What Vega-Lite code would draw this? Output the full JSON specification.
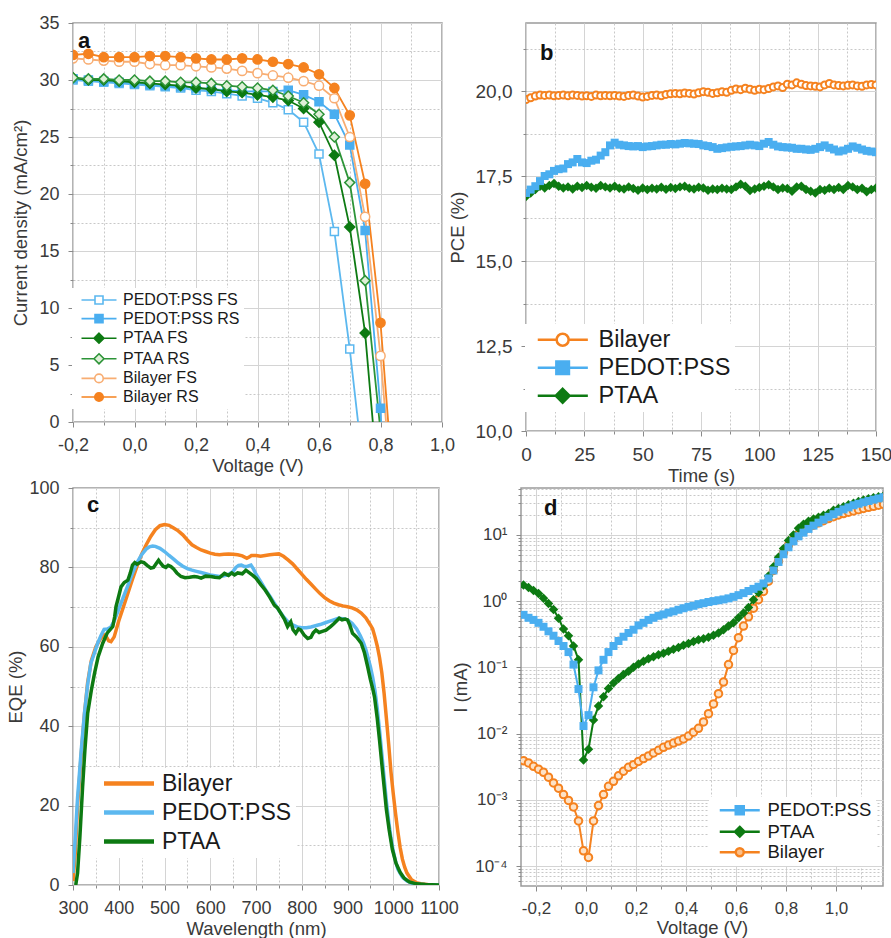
{
"$schema": "https://vega.github.io/schema/vega-lite/v6.json",
"background": "white",
"padding": {"left": 6, "top": 13, "right": 2, "bottom": 2},
"config": {
 "font": "Liberation Sans",
 "view": {"stroke": "#9a9a9a", "strokeWidth": 1.5},
 "axis": {"labelFont": "Liberation Sans", "titleFont": "Liberation Sans", "labelColor": "#3a3a3a", "titleColor": "#3a3a3a", "titleFontWeight": "normal", "domain": false, "tickColor": "#8a8a8a", "gridColor": "#d4d4d4", "labelFontSize": 18, "titleFontSize": 18.5, "tickSize": 5, "labelPadding": 9, "titlePadding": 8, "labelFlush": false, "labelOverlap": false, "labelBound": false},
 "legend": {"labelFont": "Liberation Sans", "labelColor": "#1a1a1a", "titleFont": "Liberation Sans"}
},
"datasets": {
"a": [
{"s":"PEDOT:PSS FS","v":-0.2,"j":30.0},{"s":"PEDOT:PSS FS","v":-0.15,"j":29.9},{"s":"PEDOT:PSS FS","v":-0.1,"j":29.8},{"s":"PEDOT:PSS FS","v":-0.05,"j":29.7},{"s":"PEDOT:PSS FS","v":0,"j":29.6},{"s":"PEDOT:PSS FS","v":0.05,"j":29.5},{"s":"PEDOT:PSS FS","v":0.1,"j":29.4},{"s":"PEDOT:PSS FS","v":0.15,"j":29.3},{"s":"PEDOT:PSS FS","v":0.2,"j":29.1},{"s":"PEDOT:PSS FS","v":0.25,"j":29.0},{"s":"PEDOT:PSS FS","v":0.3,"j":28.8},{"s":"PEDOT:PSS FS","v":0.35,"j":28.6},{"s":"PEDOT:PSS FS","v":0.4,"j":28.4},{"s":"PEDOT:PSS FS","v":0.45,"j":28.0},{"s":"PEDOT:PSS FS","v":0.5,"j":27.4},{"s":"PEDOT:PSS FS","v":0.55,"j":26.3},{"s":"PEDOT:PSS FS","v":0.6,"j":23.5},{"s":"PEDOT:PSS FS","v":0.65,"j":16.7},{"s":"PEDOT:PSS FS","v":0.7,"j":6.4},{"s":"PEDOT:PSS FS","v":0.727,"j":0},
{"s":"PEDOT:PSS RS","v":-0.2,"j":30.1},{"s":"PEDOT:PSS RS","v":-0.15,"j":30.0},{"s":"PEDOT:PSS RS","v":-0.1,"j":29.9},{"s":"PEDOT:PSS RS","v":-0.05,"j":29.8},{"s":"PEDOT:PSS RS","v":0,"j":29.7},{"s":"PEDOT:PSS RS","v":0.05,"j":29.6},{"s":"PEDOT:PSS RS","v":0.1,"j":29.5},{"s":"PEDOT:PSS RS","v":0.15,"j":29.4},{"s":"PEDOT:PSS RS","v":0.2,"j":29.3},{"s":"PEDOT:PSS RS","v":0.25,"j":29.2},{"s":"PEDOT:PSS RS","v":0.3,"j":29.1},{"s":"PEDOT:PSS RS","v":0.35,"j":29.0},{"s":"PEDOT:PSS RS","v":0.4,"j":29.0},{"s":"PEDOT:PSS RS","v":0.45,"j":29.0},{"s":"PEDOT:PSS RS","v":0.5,"j":29.1},{"s":"PEDOT:PSS RS","v":0.55,"j":28.7},{"s":"PEDOT:PSS RS","v":0.6,"j":28.1},{"s":"PEDOT:PSS RS","v":0.65,"j":27.0},{"s":"PEDOT:PSS RS","v":0.7,"j":24.3},{"s":"PEDOT:PSS RS","v":0.75,"j":16.8},{"s":"PEDOT:PSS RS","v":0.8,"j":1.2},{"s":"PEDOT:PSS RS","v":0.802,"j":0},
{"s":"PTAA FS","v":-0.2,"j":30.2},{"s":"PTAA FS","v":-0.15,"j":30.0},{"s":"PTAA FS","v":-0.1,"j":30.0},{"s":"PTAA FS","v":-0.05,"j":29.9},{"s":"PTAA FS","v":0,"j":29.8},{"s":"PTAA FS","v":0.05,"j":29.7},{"s":"PTAA FS","v":0.1,"j":29.6},{"s":"PTAA FS","v":0.15,"j":29.5},{"s":"PTAA FS","v":0.2,"j":29.3},{"s":"PTAA FS","v":0.25,"j":29.2},{"s":"PTAA FS","v":0.3,"j":29.0},{"s":"PTAA FS","v":0.35,"j":28.9},{"s":"PTAA FS","v":0.4,"j":28.7},{"s":"PTAA FS","v":0.45,"j":28.5},{"s":"PTAA FS","v":0.5,"j":28.2},{"s":"PTAA FS","v":0.55,"j":27.5},{"s":"PTAA FS","v":0.6,"j":26.3},{"s":"PTAA FS","v":0.65,"j":23.4},{"s":"PTAA FS","v":0.7,"j":17.1},{"s":"PTAA FS","v":0.75,"j":7.8},{"s":"PTAA FS","v":0.775,"j":0},
{"s":"PTAA RS","v":-0.2,"j":30.2},{"s":"PTAA RS","v":-0.15,"j":30.1},{"s":"PTAA RS","v":-0.1,"j":30.1},{"s":"PTAA RS","v":-0.05,"j":30.0},{"s":"PTAA RS","v":0,"j":30.0},{"s":"PTAA RS","v":0.05,"j":29.9},{"s":"PTAA RS","v":0.1,"j":29.9},{"s":"PTAA RS","v":0.15,"j":29.8},{"s":"PTAA RS","v":0.2,"j":29.8},{"s":"PTAA RS","v":0.25,"j":29.7},{"s":"PTAA RS","v":0.3,"j":29.5},{"s":"PTAA RS","v":0.35,"j":29.4},{"s":"PTAA RS","v":0.4,"j":29.3},{"s":"PTAA RS","v":0.45,"j":29.1},{"s":"PTAA RS","v":0.5,"j":28.6},{"s":"PTAA RS","v":0.55,"j":28.0},{"s":"PTAA RS","v":0.6,"j":27.0},{"s":"PTAA RS","v":0.65,"j":25.0},{"s":"PTAA RS","v":0.7,"j":21.0},{"s":"PTAA RS","v":0.75,"j":12.4},{"s":"PTAA RS","v":0.797,"j":0},
{"s":"Bilayer FS","v":-0.2,"j":31.9},{"s":"Bilayer FS","v":-0.15,"j":31.8},{"s":"Bilayer FS","v":-0.1,"j":31.7},{"s":"Bilayer FS","v":-0.05,"j":31.6},{"s":"Bilayer FS","v":0,"j":31.6},{"s":"Bilayer FS","v":0.05,"j":31.4},{"s":"Bilayer FS","v":0.1,"j":31.3},{"s":"Bilayer FS","v":0.15,"j":31.3},{"s":"Bilayer FS","v":0.2,"j":31.2},{"s":"Bilayer FS","v":0.25,"j":31.1},{"s":"Bilayer FS","v":0.3,"j":31.0},{"s":"Bilayer FS","v":0.35,"j":30.8},{"s":"Bilayer FS","v":0.4,"j":30.6},{"s":"Bilayer FS","v":0.45,"j":30.4},{"s":"Bilayer FS","v":0.5,"j":30.2},{"s":"Bilayer FS","v":0.55,"j":29.9},{"s":"Bilayer FS","v":0.6,"j":29.5},{"s":"Bilayer FS","v":0.65,"j":28.4},{"s":"Bilayer FS","v":0.7,"j":25.0},{"s":"Bilayer FS","v":0.75,"j":18.0},{"s":"Bilayer FS","v":0.8,"j":5.8},{"s":"Bilayer FS","v":0.818,"j":0},
{"s":"Bilayer RS","v":-0.2,"j":32.2},{"s":"Bilayer RS","v":-0.15,"j":32.3},{"s":"Bilayer RS","v":-0.1,"j":32.0},{"s":"Bilayer RS","v":-0.05,"j":32.0},{"s":"Bilayer RS","v":0,"j":32.0},{"s":"Bilayer RS","v":0.05,"j":32.1},{"s":"Bilayer RS","v":0.1,"j":32.1},{"s":"Bilayer RS","v":0.15,"j":32.0},{"s":"Bilayer RS","v":0.2,"j":31.9},{"s":"Bilayer RS","v":0.25,"j":31.8},{"s":"Bilayer RS","v":0.3,"j":31.8},{"s":"Bilayer RS","v":0.35,"j":31.9},{"s":"Bilayer RS","v":0.4,"j":31.8},{"s":"Bilayer RS","v":0.45,"j":31.6},{"s":"Bilayer RS","v":0.5,"j":31.4},{"s":"Bilayer RS","v":0.55,"j":31.1},{"s":"Bilayer RS","v":0.6,"j":30.5},{"s":"Bilayer RS","v":0.65,"j":29.3},{"s":"Bilayer RS","v":0.7,"j":26.9},{"s":"Bilayer RS","v":0.75,"j":20.9},{"s":"Bilayer RS","v":0.8,"j":8.7},{"s":"Bilayer RS","v":0.825,"j":0}
],
"b": [
{"t":0,"Bilayer":19.75,"PEDOT:PSS":17.0,"PTAA":16.9},{"t":2,"Bilayer":19.8,"PEDOT:PSS":17.1,"PTAA":17.0},{"t":4,"Bilayer":19.85,"PEDOT:PSS":17.2,"PTAA":17.1},{"t":6,"Bilayer":19.88,"PEDOT:PSS":17.35,"PTAA":17.2},{"t":8,"Bilayer":19.87,"PEDOT:PSS":17.5,"PTAA":17.15},{"t":10,"Bilayer":19.88,"PEDOT:PSS":17.55,"PTAA":17.22},{"t":12,"Bilayer":19.86,"PEDOT:PSS":17.65,"PTAA":17.28},{"t":14,"Bilayer":19.87,"PEDOT:PSS":17.7,"PTAA":17.2},{"t":16,"Bilayer":19.88,"PEDOT:PSS":17.72,"PTAA":17.15},{"t":18,"Bilayer":19.86,"PEDOT:PSS":17.85,"PTAA":17.18},{"t":20,"Bilayer":19.88,"PEDOT:PSS":17.9,"PTAA":17.12},{"t":22,"Bilayer":19.87,"PEDOT:PSS":18.0,"PTAA":17.2},{"t":24,"Bilayer":19.85,"PEDOT:PSS":17.9,"PTAA":17.16},{"t":26,"Bilayer":19.86,"PEDOT:PSS":17.88,"PTAA":17.22},{"t":28,"Bilayer":19.84,"PEDOT:PSS":17.95,"PTAA":17.17},{"t":30,"Bilayer":19.88,"PEDOT:PSS":17.98,"PTAA":17.14},{"t":32,"Bilayer":19.86,"PEDOT:PSS":18.1,"PTAA":17.22},{"t":34,"Bilayer":19.87,"PEDOT:PSS":18.2,"PTAA":17.18},{"t":36,"Bilayer":19.86,"PEDOT:PSS":18.4,"PTAA":17.15},{"t":38,"Bilayer":19.87,"PEDOT:PSS":18.48,"PTAA":17.2},{"t":40,"Bilayer":19.85,"PEDOT:PSS":18.42,"PTAA":17.14},{"t":42,"Bilayer":19.84,"PEDOT:PSS":18.4,"PTAA":17.12},{"t":44,"Bilayer":19.87,"PEDOT:PSS":18.38,"PTAA":17.18},{"t":46,"Bilayer":19.88,"PEDOT:PSS":18.37,"PTAA":17.13},{"t":48,"Bilayer":19.85,"PEDOT:PSS":18.38,"PTAA":17.08},{"t":50,"Bilayer":19.82,"PEDOT:PSS":18.35,"PTAA":17.15},{"t":52,"Bilayer":19.84,"PEDOT:PSS":18.37,"PTAA":17.1},{"t":54,"Bilayer":19.87,"PEDOT:PSS":18.38,"PTAA":17.14},{"t":56,"Bilayer":19.88,"PEDOT:PSS":18.4,"PTAA":17.12},{"t":58,"Bilayer":19.86,"PEDOT:PSS":18.42,"PTAA":17.17},{"t":60,"Bilayer":19.9,"PEDOT:PSS":18.42,"PTAA":17.11},{"t":62,"Bilayer":19.92,"PEDOT:PSS":18.44,"PTAA":17.16},{"t":64,"Bilayer":19.93,"PEDOT:PSS":18.43,"PTAA":17.13},{"t":66,"Bilayer":19.92,"PEDOT:PSS":18.45,"PTAA":17.18},{"t":68,"Bilayer":19.94,"PEDOT:PSS":18.47,"PTAA":17.2},{"t":70,"Bilayer":19.93,"PEDOT:PSS":18.46,"PTAA":17.14},{"t":72,"Bilayer":19.91,"PEDOT:PSS":18.45,"PTAA":17.12},{"t":74,"Bilayer":19.95,"PEDOT:PSS":18.44,"PTAA":17.17},{"t":76,"Bilayer":19.98,"PEDOT:PSS":18.4,"PTAA":17.15},{"t":78,"Bilayer":19.96,"PEDOT:PSS":18.38,"PTAA":17.08},{"t":80,"Bilayer":19.93,"PEDOT:PSS":18.35,"PTAA":17.12},{"t":82,"Bilayer":19.95,"PEDOT:PSS":18.3,"PTAA":17.1},{"t":84,"Bilayer":19.98,"PEDOT:PSS":18.32,"PTAA":17.14},{"t":86,"Bilayer":19.96,"PEDOT:PSS":18.34,"PTAA":17.12},{"t":88,"Bilayer":20.02,"PEDOT:PSS":18.36,"PTAA":17.1},{"t":90,"Bilayer":20.06,"PEDOT:PSS":18.37,"PTAA":17.18},{"t":92,"Bilayer":20.04,"PEDOT:PSS":18.38,"PTAA":17.26},{"t":94,"Bilayer":20.08,"PEDOT:PSS":18.4,"PTAA":17.2},{"t":96,"Bilayer":20.05,"PEDOT:PSS":18.42,"PTAA":17.07},{"t":98,"Bilayer":20.02,"PEDOT:PSS":18.4,"PTAA":17.12},{"t":100,"Bilayer":20.05,"PEDOT:PSS":18.38,"PTAA":17.16},{"t":102,"Bilayer":20.04,"PEDOT:PSS":18.45,"PTAA":17.2},{"t":104,"Bilayer":20.07,"PEDOT:PSS":18.5,"PTAA":17.24},{"t":106,"Bilayer":20.12,"PEDOT:PSS":18.42,"PTAA":17.18},{"t":108,"Bilayer":20.15,"PEDOT:PSS":18.37,"PTAA":17.1},{"t":110,"Bilayer":20.1,"PEDOT:PSS":18.35,"PTAA":17.15},{"t":112,"Bilayer":20.2,"PEDOT:PSS":18.34,"PTAA":17.13},{"t":114,"Bilayer":20.18,"PEDOT:PSS":18.33,"PTAA":17.05},{"t":116,"Bilayer":20.24,"PEDOT:PSS":18.3,"PTAA":17.18},{"t":118,"Bilayer":20.2,"PEDOT:PSS":18.3,"PTAA":17.2},{"t":120,"Bilayer":20.16,"PEDOT:PSS":18.28,"PTAA":17.1},{"t":122,"Bilayer":20.15,"PEDOT:PSS":18.27,"PTAA":17.05},{"t":124,"Bilayer":20.14,"PEDOT:PSS":18.3,"PTAA":17.0},{"t":126,"Bilayer":20.12,"PEDOT:PSS":18.35,"PTAA":17.1},{"t":128,"Bilayer":20.18,"PEDOT:PSS":18.4,"PTAA":17.08},{"t":130,"Bilayer":20.22,"PEDOT:PSS":18.33,"PTAA":17.14},{"t":132,"Bilayer":20.18,"PEDOT:PSS":18.28,"PTAA":17.1},{"t":134,"Bilayer":20.16,"PEDOT:PSS":18.22,"PTAA":17.16},{"t":136,"Bilayer":20.15,"PEDOT:PSS":18.25,"PTAA":17.1},{"t":138,"Bilayer":20.17,"PEDOT:PSS":18.3,"PTAA":17.22},{"t":140,"Bilayer":20.18,"PEDOT:PSS":18.37,"PTAA":17.18},{"t":142,"Bilayer":20.15,"PEDOT:PSS":18.33,"PTAA":17.1},{"t":144,"Bilayer":20.14,"PEDOT:PSS":18.28,"PTAA":17.14},{"t":146,"Bilayer":20.18,"PEDOT:PSS":18.24,"PTAA":17.04},{"t":148,"Bilayer":20.19,"PEDOT:PSS":18.22,"PTAA":17.1},{"t":150,"Bilayer":20.18,"PEDOT:PSS":18.2,"PTAA":17.15}
],
"c": [
{"s":"Bilayer","w":300,"e":1},{"s":"Bilayer","w":305,"e":8},{"s":"Bilayer","w":310,"e":20},{"s":"Bilayer","w":318,"e":33},{"s":"Bilayer","w":325,"e":43},{"s":"Bilayer","w":332,"e":51},{"s":"Bilayer","w":340,"e":56.5},{"s":"Bilayer","w":350,"e":60},{"s":"Bilayer","w":360,"e":62},{"s":"Bilayer","w":368,"e":63},{"s":"Bilayer","w":373,"e":62.5},{"s":"Bilayer","w":378,"e":61.5},{"s":"Bilayer","w":383,"e":61.3},{"s":"Bilayer","w":390,"e":62.5},{"s":"Bilayer","w":400,"e":66.5},{"s":"Bilayer","w":410,"e":70},{"s":"Bilayer","w":420,"e":73.5},{"s":"Bilayer","w":430,"e":77},{"s":"Bilayer","w":440,"e":80.3},{"s":"Bilayer","w":450,"e":83.3},{"s":"Bilayer","w":460,"e":85.7},{"s":"Bilayer","w":470,"e":87.8},{"s":"Bilayer","w":480,"e":89.5},{"s":"Bilayer","w":490,"e":90.5},{"s":"Bilayer","w":500,"e":90.8},{"s":"Bilayer","w":510,"e":90.6},{"s":"Bilayer","w":520,"e":89.9},{"s":"Bilayer","w":530,"e":89.2},{"s":"Bilayer","w":540,"e":88.2},{"s":"Bilayer","w":550,"e":86.9},{"s":"Bilayer","w":560,"e":85.7},{"s":"Bilayer","w":570,"e":85.0},{"s":"Bilayer","w":580,"e":84.4},{"s":"Bilayer","w":590,"e":84.0},{"s":"Bilayer","w":600,"e":83.6},{"s":"Bilayer","w":610,"e":83.3},{"s":"Bilayer","w":620,"e":83.2},{"s":"Bilayer","w":630,"e":83.3},{"s":"Bilayer","w":640,"e":83.4},{"s":"Bilayer","w":650,"e":83.3},{"s":"Bilayer","w":660,"e":83.2},{"s":"Bilayer","w":670,"e":82.9},{"s":"Bilayer","w":680,"e":82.3},{"s":"Bilayer","w":685,"e":82.6},{"s":"Bilayer","w":690,"e":83.0},{"s":"Bilayer","w":700,"e":83.0},{"s":"Bilayer","w":710,"e":82.8},{"s":"Bilayer","w":720,"e":83.0},{"s":"Bilayer","w":730,"e":83.2},{"s":"Bilayer","w":740,"e":83.3},{"s":"Bilayer","w":750,"e":83.4},{"s":"Bilayer","w":760,"e":82.8},{"s":"Bilayer","w":770,"e":81.9},{"s":"Bilayer","w":780,"e":80.9},{"s":"Bilayer","w":790,"e":79.6},{"s":"Bilayer","w":800,"e":78.3},{"s":"Bilayer","w":810,"e":77.0},{"s":"Bilayer","w":820,"e":75.8},{"s":"Bilayer","w":830,"e":74.6},{"s":"Bilayer","w":840,"e":73.4},{"s":"Bilayer","w":850,"e":72.4},{"s":"Bilayer","w":860,"e":71.6},{"s":"Bilayer","w":870,"e":71.0},{"s":"Bilayer","w":880,"e":70.6},{"s":"Bilayer","w":890,"e":70.3},{"s":"Bilayer","w":900,"e":70.1},{"s":"Bilayer","w":910,"e":69.8},{"s":"Bilayer","w":920,"e":69.3},{"s":"Bilayer","w":930,"e":68.5},{"s":"Bilayer","w":940,"e":67.3},{"s":"Bilayer","w":950,"e":65.5},{"s":"Bilayer","w":955,"e":64.5},{"s":"Bilayer","w":960,"e":62.5},{"s":"Bilayer","w":965,"e":60.2},{"s":"Bilayer","w":970,"e":57.3},{"s":"Bilayer","w":975,"e":53.5},{"s":"Bilayer","w":980,"e":48.3},{"s":"Bilayer","w":985,"e":42},{"s":"Bilayer","w":990,"e":35.5},{"s":"Bilayer","w":995,"e":28.5},{"s":"Bilayer","w":1000,"e":23},{"s":"Bilayer","w":1005,"e":18},{"s":"Bilayer","w":1010,"e":13.5},{"s":"Bilayer","w":1015,"e":9.5},{"s":"Bilayer","w":1020,"e":6.5},{"s":"Bilayer","w":1025,"e":4.5},{"s":"Bilayer","w":1030,"e":3},{"s":"Bilayer","w":1040,"e":1.3},{"s":"Bilayer","w":1050,"e":0.6},{"s":"Bilayer","w":1060,"e":0.3},{"s":"Bilayer","w":1075,"e":0.1},{"s":"Bilayer","w":1100,"e":0},
{"s":"PEDOT:PSS","w":300,"e":3},{"s":"PEDOT:PSS","w":305,"e":12},{"s":"PEDOT:PSS","w":310,"e":22},{"s":"PEDOT:PSS","w":318,"e":34},{"s":"PEDOT:PSS","w":325,"e":43.2},{"s":"PEDOT:PSS","w":332,"e":50.5},{"s":"PEDOT:PSS","w":339,"e":55.8},{"s":"PEDOT:PSS","w":347,"e":58.5},{"s":"PEDOT:PSS","w":354,"e":60.9},{"s":"PEDOT:PSS","w":361,"e":62.8},{"s":"PEDOT:PSS","w":368,"e":64.4},{"s":"PEDOT:PSS","w":375,"e":64.5},{"s":"PEDOT:PSS","w":383,"e":65},{"s":"PEDOT:PSS","w":390,"e":66.5},{"s":"PEDOT:PSS","w":400,"e":69.5},{"s":"PEDOT:PSS","w":410,"e":72.5},{"s":"PEDOT:PSS","w":420,"e":75.5},{"s":"PEDOT:PSS","w":430,"e":78.5},{"s":"PEDOT:PSS","w":440,"e":81.2},{"s":"PEDOT:PSS","w":450,"e":83.2},{"s":"PEDOT:PSS","w":460,"e":84.6},{"s":"PEDOT:PSS","w":467,"e":85.2},{"s":"PEDOT:PSS","w":474,"e":85.4},{"s":"PEDOT:PSS","w":480,"e":85.3},{"s":"PEDOT:PSS","w":490,"e":84.8},{"s":"PEDOT:PSS","w":500,"e":84.0},{"s":"PEDOT:PSS","w":510,"e":83.0},{"s":"PEDOT:PSS","w":520,"e":82.1},{"s":"PEDOT:PSS","w":530,"e":81.1},{"s":"PEDOT:PSS","w":540,"e":80.3},{"s":"PEDOT:PSS","w":550,"e":79.7},{"s":"PEDOT:PSS","w":560,"e":79.3},{"s":"PEDOT:PSS","w":570,"e":79.0},{"s":"PEDOT:PSS","w":580,"e":78.7},{"s":"PEDOT:PSS","w":590,"e":78.4},{"s":"PEDOT:PSS","w":600,"e":78.1},{"s":"PEDOT:PSS","w":610,"e":77.9},{"s":"PEDOT:PSS","w":620,"e":77.7},{"s":"PEDOT:PSS","w":630,"e":77.9},{"s":"PEDOT:PSS","w":640,"e":78.2},{"s":"PEDOT:PSS","w":650,"e":79.0},{"s":"PEDOT:PSS","w":656,"e":80.0},{"s":"PEDOT:PSS","w":662,"e":80.5},{"s":"PEDOT:PSS","w":668,"e":80.6},{"s":"PEDOT:PSS","w":675,"e":80.2},{"s":"PEDOT:PSS","w":682,"e":80.3},{"s":"PEDOT:PSS","w":689,"e":80.6},{"s":"PEDOT:PSS","w":695,"e":79.5},{"s":"PEDOT:PSS","w":700,"e":78.3},{"s":"PEDOT:PSS","w":710,"e":76.5},{"s":"PEDOT:PSS","w":720,"e":74.5},{"s":"PEDOT:PSS","w":730,"e":72.8},{"s":"PEDOT:PSS","w":740,"e":71.0},{"s":"PEDOT:PSS","w":750,"e":69.2},{"s":"PEDOT:PSS","w":760,"e":67.6},{"s":"PEDOT:PSS","w":770,"e":66.3},{"s":"PEDOT:PSS","w":780,"e":65.5},{"s":"PEDOT:PSS","w":790,"e":65.0},{"s":"PEDOT:PSS","w":800,"e":64.8},{"s":"PEDOT:PSS","w":810,"e":64.8},{"s":"PEDOT:PSS","w":820,"e":65.0},{"s":"PEDOT:PSS","w":830,"e":65.3},{"s":"PEDOT:PSS","w":840,"e":65.6},{"s":"PEDOT:PSS","w":850,"e":66.0},{"s":"PEDOT:PSS","w":860,"e":66.4},{"s":"PEDOT:PSS","w":870,"e":66.8},{"s":"PEDOT:PSS","w":880,"e":67.2},{"s":"PEDOT:PSS","w":890,"e":67.1},{"s":"PEDOT:PSS","w":900,"e":66.8},{"s":"PEDOT:PSS","w":910,"e":65.9},{"s":"PEDOT:PSS","w":920,"e":64.5},{"s":"PEDOT:PSS","w":928,"e":62.8},{"s":"PEDOT:PSS","w":935,"e":61.0},{"s":"PEDOT:PSS","w":940,"e":59.3},{"s":"PEDOT:PSS","w":945,"e":57.2},{"s":"PEDOT:PSS","w":950,"e":55},{"s":"PEDOT:PSS","w":955,"e":52.3},{"s":"PEDOT:PSS","w":960,"e":49},{"s":"PEDOT:PSS","w":965,"e":44.5},{"s":"PEDOT:PSS","w":970,"e":39},{"s":"PEDOT:PSS","w":975,"e":33},{"s":"PEDOT:PSS","w":980,"e":27},{"s":"PEDOT:PSS","w":985,"e":21},{"s":"PEDOT:PSS","w":990,"e":16},{"s":"PEDOT:PSS","w":995,"e":11.8},{"s":"PEDOT:PSS","w":1000,"e":8.5},{"s":"PEDOT:PSS","w":1005,"e":6},{"s":"PEDOT:PSS","w":1010,"e":4},{"s":"PEDOT:PSS","w":1020,"e":2.0},{"s":"PEDOT:PSS","w":1030,"e":1.0},{"s":"PEDOT:PSS","w":1040,"e":0.5},{"s":"PEDOT:PSS","w":1060,"e":0.1},{"s":"PEDOT:PSS","w":1100,"e":0},
{"s":"PTAA","w":306,"e":0},{"s":"PTAA","w":310,"e":3},{"s":"PTAA","w":315,"e":12},{"s":"PTAA","w":321,"e":24.8},{"s":"PTAA","w":326,"e":34},{"s":"PTAA","w":332,"e":43.2},{"s":"PTAA","w":340,"e":49},{"s":"PTAA","w":347,"e":53.3},{"s":"PTAA","w":355,"e":57.5},{"s":"PTAA","w":365,"e":60.9},{"s":"PTAA","w":375,"e":63.5},{"s":"PTAA","w":387,"e":65.1},{"s":"PTAA","w":391,"e":67.5},{"s":"PTAA","w":394,"e":70.1},{"s":"PTAA","w":400,"e":72.8},{"s":"PTAA","w":405,"e":75.1},{"s":"PTAA","w":412,"e":76.2},{"s":"PTAA","w":420,"e":76.8},{"s":"PTAA","w":425,"e":78.5},{"s":"PTAA","w":430,"e":80.6},{"s":"PTAA","w":435,"e":81.2},{"s":"PTAA","w":440,"e":80.8},{"s":"PTAA","w":449,"e":81.4},{"s":"PTAA","w":455,"e":81.2},{"s":"PTAA","w":462,"e":80.5},{"s":"PTAA","w":470,"e":79.8},{"s":"PTAA","w":476,"e":80.0},{"s":"PTAA","w":482,"e":81.0},{"s":"PTAA","w":487,"e":81.8},{"s":"PTAA","w":492,"e":81.0},{"s":"PTAA","w":497,"e":80.3},{"s":"PTAA","w":503,"e":80.0},{"s":"PTAA","w":508,"e":80.5},{"s":"PTAA","w":514,"e":80.2},{"s":"PTAA","w":520,"e":79.6},{"s":"PTAA","w":527,"e":78.6},{"s":"PTAA","w":536,"e":77.7},{"s":"PTAA","w":545,"e":77.4},{"s":"PTAA","w":555,"e":77.5},{"s":"PTAA","w":565,"e":77.7},{"s":"PTAA","w":572,"e":77.6},{"s":"PTAA","w":580,"e":77.3},{"s":"PTAA","w":590,"e":77.8},{"s":"PTAA","w":601,"e":77.7},{"s":"PTAA","w":610,"e":77.5},{"s":"PTAA","w":620,"e":77.4},{"s":"PTAA","w":631,"e":78.5},{"s":"PTAA","w":640,"e":78.0},{"s":"PTAA","w":647,"e":78.6},{"s":"PTAA","w":653,"e":78.1},{"s":"PTAA","w":660,"e":78.6},{"s":"PTAA","w":670,"e":78.4},{"s":"PTAA","w":678,"e":79.3},{"s":"PTAA","w":685,"e":78.7},{"s":"PTAA","w":693,"e":78.0},{"s":"PTAA","w":700,"e":77.3},{"s":"PTAA","w":711,"e":75.6},{"s":"PTAA","w":720,"e":74.3},{"s":"PTAA","w":730,"e":72.5},{"s":"PTAA","w":740,"e":70.5},{"s":"PTAA","w":747,"e":69.8},{"s":"PTAA","w":755,"e":68.3},{"s":"PTAA","w":762,"e":67.0},{"s":"PTAA","w":769,"e":65.1},{"s":"PTAA","w":776,"e":66.3},{"s":"PTAA","w":781,"e":64.3},{"s":"PTAA","w":787,"e":63.4},{"s":"PTAA","w":793,"e":64.5},{"s":"PTAA","w":798,"e":64.2},{"s":"PTAA","w":805,"e":63.0},{"s":"PTAA","w":813,"e":62.1},{"s":"PTAA","w":820,"e":62.4},{"s":"PTAA","w":825,"e":63.5},{"s":"PTAA","w":831,"e":64.2},{"s":"PTAA","w":838,"e":63.6},{"s":"PTAA","w":845,"e":63.9},{"s":"PTAA","w":853,"e":64.2},{"s":"PTAA","w":863,"e":65.1},{"s":"PTAA","w":870,"e":65.8},{"s":"PTAA","w":876,"e":66.5},{"s":"PTAA","w":882,"e":67.2},{"s":"PTAA","w":888,"e":66.8},{"s":"PTAA","w":895,"e":67.0},{"s":"PTAA","w":900,"e":66.8},{"s":"PTAA","w":905,"e":65.5},{"s":"PTAA","w":911,"e":63.4},{"s":"PTAA","w":920,"e":62.4},{"s":"PTAA","w":930,"e":60.9},{"s":"PTAA","w":937,"e":58.5},{"s":"PTAA","w":944,"e":55},{"s":"PTAA","w":950,"e":51.8},{"s":"PTAA","w":955,"e":49.5},{"s":"PTAA","w":959,"e":47.4},{"s":"PTAA","w":965,"e":42},{"s":"PTAA","w":970,"e":36.5},{"s":"PTAA","w":975,"e":30.5},{"s":"PTAA","w":980,"e":24.8},{"s":"PTAA","w":985,"e":19},{"s":"PTAA","w":991,"e":13.9},{"s":"PTAA","w":998,"e":9},{"s":"PTAA","w":1006,"e":5.5},{"s":"PTAA","w":1015,"e":3.2},{"s":"PTAA","w":1024,"e":1.7},{"s":"PTAA","w":1035,"e":0.8},{"s":"PTAA","w":1050,"e":0.3},{"s":"PTAA","w":1070,"e":0.1},{"s":"PTAA","w":1100,"e":0}
],
"d": [
{"v":-0.25,"Bilayer":0.0039,"PTAA":1.75,"PEDOT:PSS":0.62},{"v":-0.23,"Bilayer":0.0036,"PTAA":1.6,"PEDOT:PSS":0.56},{"v":-0.21,"Bilayer":0.0032,"PTAA":1.45,"PEDOT:PSS":0.52},{"v":-0.19,"Bilayer":0.0029,"PTAA":1.3,"PEDOT:PSS":0.47},{"v":-0.17,"Bilayer":0.0026,"PTAA":1.1,"PEDOT:PSS":0.41},{"v":-0.15,"Bilayer":0.0022,"PTAA":0.92,"PEDOT:PSS":0.35},{"v":-0.13,"Bilayer":0.0018,"PTAA":0.75,"PEDOT:PSS":0.3},{"v":-0.11,"Bilayer":0.0015,"PTAA":0.55,"PEDOT:PSS":0.25},{"v":-0.09,"Bilayer":0.0012,"PTAA":0.38,"PEDOT:PSS":0.21},{"v":-0.07,"Bilayer":0.00098,"PTAA":0.3,"PEDOT:PSS":0.17},{"v":-0.05,"Bilayer":0.00078,"PTAA":0.21,"PEDOT:PSS":0.11},{"v":-0.03,"Bilayer":0.00048,"PTAA":0.13,"PEDOT:PSS":0.047},{"v":-0.01,"Bilayer":0.00017,"PTAA":0.004,"PEDOT:PSS":0.013},{"v":0.01,"Bilayer":0.000135,"PTAA":0.0058,"PEDOT:PSS":0.019},{"v":0.03,"Bilayer":0.00048,"PTAA":0.016,"PEDOT:PSS":0.05},{"v":0.05,"Bilayer":0.00082,"PTAA":0.026,"PEDOT:PSS":0.09},{"v":0.07,"Bilayer":0.0012,"PTAA":0.036,"PEDOT:PSS":0.13},{"v":0.09,"Bilayer":0.0016,"PTAA":0.048,"PEDOT:PSS":0.17},{"v":0.11,"Bilayer":0.0019,"PTAA":0.058,"PEDOT:PSS":0.21},{"v":0.13,"Bilayer":0.0023,"PTAA":0.068,"PEDOT:PSS":0.25},{"v":0.15,"Bilayer":0.0027,"PTAA":0.078,"PEDOT:PSS":0.29},{"v":0.17,"Bilayer":0.0031,"PTAA":0.087,"PEDOT:PSS":0.33},{"v":0.19,"Bilayer":0.0034,"PTAA":0.1,"PEDOT:PSS":0.37},{"v":0.21,"Bilayer":0.0038,"PTAA":0.112,"PEDOT:PSS":0.43},{"v":0.23,"Bilayer":0.0042,"PTAA":0.124,"PEDOT:PSS":0.47},{"v":0.25,"Bilayer":0.0046,"PTAA":0.135,"PEDOT:PSS":0.52},{"v":0.27,"Bilayer":0.0051,"PTAA":0.145,"PEDOT:PSS":0.56},{"v":0.29,"Bilayer":0.0056,"PTAA":0.155,"PEDOT:PSS":0.6},{"v":0.31,"Bilayer":0.0062,"PTAA":0.163,"PEDOT:PSS":0.63},{"v":0.33,"Bilayer":0.0067,"PTAA":0.175,"PEDOT:PSS":0.67},{"v":0.35,"Bilayer":0.0072,"PTAA":0.187,"PEDOT:PSS":0.7},{"v":0.37,"Bilayer":0.0077,"PTAA":0.2,"PEDOT:PSS":0.74},{"v":0.39,"Bilayer":0.0083,"PTAA":0.215,"PEDOT:PSS":0.78},{"v":0.41,"Bilayer":0.0092,"PTAA":0.23,"PEDOT:PSS":0.82},{"v":0.43,"Bilayer":0.0105,"PTAA":0.245,"PEDOT:PSS":0.85},{"v":0.45,"Bilayer":0.012,"PTAA":0.26,"PEDOT:PSS":0.9},{"v":0.47,"Bilayer":0.015,"PTAA":0.27,"PEDOT:PSS":0.93},{"v":0.49,"Bilayer":0.02,"PTAA":0.285,"PEDOT:PSS":0.97},{"v":0.51,"Bilayer":0.028,"PTAA":0.305,"PEDOT:PSS":1.0},{"v":0.53,"Bilayer":0.04,"PTAA":0.33,"PEDOT:PSS":1.03},{"v":0.55,"Bilayer":0.06,"PTAA":0.37,"PEDOT:PSS":1.06},{"v":0.57,"Bilayer":0.11,"PTAA":0.42,"PEDOT:PSS":1.1},{"v":0.59,"Bilayer":0.18,"PTAA":0.47,"PEDOT:PSS":1.16},{"v":0.61,"Bilayer":0.28,"PTAA":0.56,"PEDOT:PSS":1.23},{"v":0.63,"Bilayer":0.42,"PTAA":0.66,"PEDOT:PSS":1.32},{"v":0.65,"Bilayer":0.58,"PTAA":0.8,"PEDOT:PSS":1.42},{"v":0.67,"Bilayer":0.78,"PTAA":1.05,"PEDOT:PSS":1.53},{"v":0.69,"Bilayer":1.05,"PTAA":1.35,"PEDOT:PSS":1.65},{"v":0.71,"Bilayer":1.4,"PTAA":1.7,"PEDOT:PSS":1.85},{"v":0.73,"Bilayer":2.0,"PTAA":2.4,"PEDOT:PSS":2.2},{"v":0.75,"Bilayer":2.9,"PTAA":3.3,"PEDOT:PSS":2.9},{"v":0.77,"Bilayer":4.0,"PTAA":4.6,"PEDOT:PSS":3.9},{"v":0.79,"Bilayer":5.4,"PTAA":6.2,"PEDOT:PSS":5.1},{"v":0.81,"Bilayer":7.0,"PTAA":8.2,"PEDOT:PSS":6.5},{"v":0.83,"Bilayer":8.6,"PTAA":10.0,"PEDOT:PSS":8.0},{"v":0.85,"Bilayer":10.0,"PTAA":12.6,"PEDOT:PSS":9.5},{"v":0.87,"Bilayer":11.4,"PTAA":14.5,"PEDOT:PSS":10.8},{"v":0.89,"Bilayer":12.8,"PTAA":16.0,"PEDOT:PSS":12.3},{"v":0.91,"Bilayer":14.0,"PTAA":17.3,"PEDOT:PSS":13.8},{"v":0.93,"Bilayer":15.2,"PTAA":18.5,"PEDOT:PSS":15.3},{"v":0.95,"Bilayer":16.4,"PTAA":19.7,"PEDOT:PSS":17.0},{"v":0.97,"Bilayer":17.6,"PTAA":21.0,"PEDOT:PSS":18.7},{"v":0.99,"Bilayer":18.8,"PTAA":23.5,"PEDOT:PSS":20.5},{"v":1.01,"Bilayer":20.0,"PTAA":25.0,"PEDOT:PSS":22.3},{"v":1.03,"Bilayer":21.0,"PTAA":26.5,"PEDOT:PSS":24.2},{"v":1.05,"Bilayer":22.0,"PTAA":28.5,"PEDOT:PSS":26.0},{"v":1.07,"Bilayer":23.0,"PTAA":30.0,"PEDOT:PSS":28.0},{"v":1.09,"Bilayer":24.0,"PTAA":32.0,"PEDOT:PSS":29.5},{"v":1.11,"Bilayer":25.0,"PTAA":33.5,"PEDOT:PSS":31.0},{"v":1.13,"Bilayer":26.0,"PTAA":35.0,"PEDOT:PSS":32.5},{"v":1.15,"Bilayer":27.0,"PTAA":36.5,"PEDOT:PSS":34.0},{"v":1.17,"Bilayer":28.0,"PTAA":37.5,"PEDOT:PSS":35.5},{"v":1.19,"Bilayer":29.0,"PTAA":38.5,"PEDOT:PSS":37.0}
]
},
"resolve": {"scale": {"color": "independent"}},
"spacing": 465,
"bounds": "flush",
"vconcat": [
{
 "hconcat": [
 {
  "width": 369, "height": 399,
  "data": {"name": "a"},
  "resolve": {"axis": {"x": "independent", "y": "independent"}},
  "layer": [
   {"mark": {"type": "line", "strokeWidth": 1.8, "clip": true},
    "encoding": {
     "x": {"field": "v", "type": "quantitative", "scale": {"domain": [-0.2, 1.0], "nice": false, "zero": false},
       "axis": {"orient": "bottom", "title": "Voltage (V)", "values": [-0.2, 0, 0.2, 0.4, 0.6, 0.8, 1], "labelExpr": "replace(replace(format(datum.value,'.1f'),'.',','),'−','-')", "grid": true, "titlePadding": 2}},
     "y": {"field": "j", "type": "quantitative", "scale": {"domain": [0, 35], "nice": false},
       "axis": {"orient": "left", "title": "Current density (mA/cm²)", "values": [0, 5, 10, 15, 20, 25, 30, 35], "format": "d", "grid": true}},
     "color": {"field": "s", "type": "nominal",
       "scale": {"domain": ["PEDOT:PSS FS", "PEDOT:PSS RS", "PTAA FS", "PTAA RS", "Bilayer FS", "Bilayer RS"], "range": ["#5cb8ef", "#4aaef0", "#0d7a12", "#2d9438", "#f8ad72", "#f5821f"]},
       "legend": {"title": null, "orient": "none", "legendX": -1, "legendY": 265, "padding": 4, "fillColor": "white", "labelFontSize": 16, "symbolSize": 25, "labelOffset": 31, "rowPadding": 2.6,
         "encode": {"symbols": {"update": {
           "shape": {"signal": "indexof(datum.value,'PEDOT')>=0 ? 'M-1,0H4.4M7.6,0H13M4.4,-1.6H7.6V1.6H4.4Z' : indexof(datum.value,'PTAA')>=0 ? 'M-1,0H4M8,0H13M6,-2L8,0L6,2L4,0Z' : 'M-1,0H4.3M7.7,0H13M4.3,0A1.7,1.7,0,1,0,7.7,0A1.7,1.7,0,1,0,4.3,0Z'"},
           "fill": {"signal": "datum.value=='PEDOT:PSS FS'||datum.value=='Bilayer FS' ? 'white' : datum.value=='PTAA RS' ? '#dff0d8' : datum.value=='PEDOT:PSS RS' ? '#4aaef0' : datum.value=='PTAA FS' ? '#0d7a12' : '#f5821f'"},
           "stroke": {"signal": "datum.value=='PEDOT:PSS FS' ? '#5cb8ef' : datum.value=='PEDOT:PSS RS' ? '#4aaef0' : datum.value=='PTAA FS' ? '#0d7a12' : datum.value=='PTAA RS' ? '#2d9438' : datum.value=='Bilayer FS' ? '#f8ad72' : '#f5821f'"},
           "strokeWidth": {"value": 1.6}, "opacity": {"value": 1}}}}}}
    }},
   {"transform": [{"filter": "datum.j > 0 && indexof(datum.s,'PEDOT')>=0"}],
    "mark": {"type": "point", "shape": "square", "size": 64, "opacity": 1, "strokeWidth": 1.5, "clip": true},
    "encoding": {
     "x": {"field": "v", "type": "quantitative", "axis": null},
     "y": {"field": "j", "type": "quantitative", "axis": null},
     "stroke": {"condition": {"test": "datum.s=='PEDOT:PSS FS'", "value": "#5cb8ef"}, "value": "#4aaef0"},
     "fill": {"condition": {"test": "datum.s=='PEDOT:PSS FS'", "value": "white"}, "value": "#4aaef0"}
    }},
   {"transform": [{"filter": "datum.j > 0 && indexof(datum.s,'PTAA')>=0"}],
    "mark": {"type": "point", "shape": "diamond", "size": 100, "opacity": 1, "strokeWidth": 1.5, "clip": true},
    "encoding": {
     "x": {"field": "v", "type": "quantitative", "axis": null},
     "y": {"field": "j", "type": "quantitative", "axis": null},
     "stroke": {"condition": {"test": "datum.s=='PTAA FS'", "value": "#0d7a12"}, "value": "#2d9438"},
     "fill": {"condition": {"test": "datum.s=='PTAA FS'", "value": "#0d7a12"}, "value": "#dff0d8"}
    }},
   {"transform": [{"filter": "datum.j > 0 && indexof(datum.s,'Bilayer')>=0"}],
    "mark": {"type": "point", "shape": "circle", "size": 85, "opacity": 1, "strokeWidth": 1.5, "clip": true},
    "encoding": {
     "x": {"field": "v", "type": "quantitative", "axis": null},
     "y": {"field": "j", "type": "quantitative", "axis": null},
     "stroke": {"condition": {"test": "datum.s=='Bilayer FS'", "value": "#f8ad72"}, "value": "#f5821f"},
     "fill": {"condition": {"test": "datum.s=='Bilayer FS'", "value": "white"}, "value": "#f5821f"}
    }},
   {"data": {"values": [{}]},
    "mark": {"type": "text", "text": "a", "fontSize": 22, "fontWeight": "bold", "align": "left", "baseline": "alphabetic", "color": "#111"},
    "encoding": {
     "x": {"datum": -0.184, "axis": {"orient": "bottom", "title": null, "values": [-0.1, 0.1, 0.3, 0.5, 0.7, 0.9], "labels": false, "grid": true, "gridDash": [2, 2], "gridColor": "#c8c8c8", "tickSize": 3}},
     "y": {"datum": 32.8, "axis": {"orient": "left", "title": null, "values": [2.5, 7.5, 12.5, 17.5, 22.5, 27.5, 32.5], "labels": false, "grid": true, "gridDash": [2, 2], "gridColor": "#c8c8c8", "tickSize": 3}}
    }}
  ]
 },
 {
  "width": 350, "height": 408,
  "data": {"name": "b"},
  "transform": [{"fold": ["PTAA", "PEDOT:PSS", "Bilayer"], "as": ["s", "p"]}],
  "resolve": {"axis": {"x": "independent", "y": "independent"}},
  "layer": [
   {"mark": {"type": "line", "strokeWidth": 2, "clip": true},
    "encoding": {
     "x": {"field": "t", "type": "quantitative", "scale": {"domain": [0, 150], "nice": false},
       "axis": {"orient": "bottom", "title": "Time (s)", "values": [0, 25, 50, 75, 100, 125, 150], "format": "d", "grid": true, "labelFontSize": 19, "titlePadding": 2}},
     "y": {"field": "p", "type": "quantitative", "scale": {"domain": [10, 22], "nice": false, "zero": false},
       "axis": {"orient": "left", "title": "PCE (%)", "values": [10, 12.5, 15, 17.5, 20], "labelExpr": "replace(format(datum.value,'.1f'),'.',',')", "grid": true, "labelFontSize": 19}},
     "color": {"field": "s", "type": "nominal",
       "scale": {"domain": ["Bilayer", "PEDOT:PSS", "PTAA"], "range": ["#f5821f", "#4aaef0", "#0d7a12"]},
       "legend": {"title": null, "orient": "none", "legendX": -1, "legendY": 301, "padding": 4, "fillColor": "white", "labelFontSize": 23.5, "symbolSize": 36, "labelOffset": 46, "rowPadding": 3,
         "encode": {"symbols": {"update": {
           "shape": {"signal": "datum.value=='Bilayer' ? 'M-1,0H5.3M9.3,0H15.7M5.3,0A2,2,0,1,0,9.3,0A2,2,0,1,0,5.3,0Z' : datum.value=='PTAA' ? 'M-1,0H5M9.6,0H15.7M7.3,-2.3L9.6,0L7.3,2.3L5,0Z' : 'M-1,0H5.2M9.4,0H15.7M5.2,-2.1H9.4V2.1H5.2Z'"},
           "fill": {"signal": "datum.value=='Bilayer' ? 'white' : datum.value=='PTAA' ? '#0d7a12' : '#4aaef0'"},
           "stroke": {"signal": "datum.value=='Bilayer' ? '#f5821f' : datum.value=='PTAA' ? '#0d7a12' : '#4aaef0'"},
           "strokeWidth": {"value": 2.5}, "opacity": {"value": 1}}}}}}
    }},
   {"transform": [{"filter": "datum.s=='PTAA'"}],
    "mark": {"type": "point", "shape": "diamond", "size": 90, "filled": true, "opacity": 1, "color": "#0d7a12", "clip": true},
    "encoding": {"x": {"field": "t", "type": "quantitative", "axis": null}, "y": {"field": "p", "type": "quantitative", "axis": null}}},
   {"transform": [{"filter": "datum.s=='PEDOT:PSS'"}],
    "mark": {"type": "point", "shape": "square", "size": 64, "filled": true, "opacity": 1, "color": "#4aaef0", "clip": true},
    "encoding": {"x": {"field": "t", "type": "quantitative", "axis": null}, "y": {"field": "p", "type": "quantitative", "axis": null}}},
   {"transform": [{"filter": "datum.s=='Bilayer'"}],
    "mark": {"type": "point", "shape": "circle", "size": 49, "opacity": 1, "stroke": "#f5821f", "fill": "white", "strokeWidth": 2, "clip": true},
    "encoding": {"x": {"field": "t", "type": "quantitative", "axis": null}, "y": {"field": "p", "type": "quantitative", "axis": null}}},
   {"data": {"values": [{}]},
    "mark": {"type": "text", "text": "b", "fontSize": 22, "fontWeight": "bold", "align": "left", "baseline": "alphabetic", "color": "#111"},
    "encoding": {
     "x": {"datum": 6, "axis": {"orient": "bottom", "title": null, "values": [12.5, 37.5, 62.5, 87.5, 112.5, 137.5], "labels": false, "grid": true, "gridDash": [2, 2], "gridColor": "#c8c8c8", "tickSize": 3}},
     "y": {"datum": 20.9, "axis": {"orient": "left", "title": null, "values": [11.25, 13.75, 16.25, 18.75, 21.25], "labels": false, "grid": true, "gridDash": [2, 2], "gridColor": "#c8c8c8", "tickSize": 3}}
    }}
  ]
 }
 ],
 "spacing": 84,
 "bounds": "flush",
 "resolve": {"scale": {"color": "independent"}}
},
{
 "hconcat": [
 {
  "width": 366, "height": 397,
  "data": {"name": "c"},
  "resolve": {"axis": {"x": "independent", "y": "independent"}},
  "layer": [
   {"mark": {"type": "line", "strokeWidth": 3.5, "clip": true},
    "encoding": {
     "x": {"field": "w", "type": "quantitative", "scale": {"domain": [300, 1100], "nice": false, "zero": false},
       "axis": {"orient": "bottom", "title": "Wavelength (nm)", "values": [300, 400, 500, 600, 700, 800, 900, 1000, 1100], "format": "d", "grid": true, "titlePadding": 2}},
     "y": {"field": "e", "type": "quantitative", "scale": {"domain": [0, 100], "nice": false},
       "axis": {"orient": "left", "title": "EQE (%)", "values": [0, 20, 40, 60, 80, 100], "format": "d", "grid": true, "titlePadding": 3}},
     "color": {"field": "s", "type": "nominal",
       "scale": {"domain": ["Bilayer", "PEDOT:PSS", "PTAA"], "range": ["#f5821f", "#5cb8ef", "#0d7a12"]},
       "legend": {"title": null, "orient": "none", "legendX": 18, "legendY": 280, "padding": 4, "fillColor": "white", "labelFontSize": 23, "symbolSize": 25, "symbolStrokeWidth": 4.5, "labelOffset": 44, "rowPadding": 5,
         "encode": {"symbols": {"update": {
           "shape": {"value": "M-1,0H19"},
           "fill": {"value": "transparent"},
           "stroke": {"signal": "datum.value=='Bilayer' ? '#f5821f' : datum.value=='PTAA' ? '#0d7a12' : '#5cb8ef'"},
           "strokeWidth": {"value": 4.5}, "opacity": {"value": 1}}}}}}
    }},
   {"data": {"values": [{}]},
    "mark": {"type": "text", "text": "c", "fontSize": 22, "fontWeight": "bold", "align": "left", "baseline": "alphabetic", "color": "#111"},
    "encoding": {
     "x": {"datum": 330.6, "axis": {"orient": "bottom", "title": null, "values": [350, 450, 550, 650, 750, 850, 950, 1050], "labels": false, "grid": true, "gridDash": [2, 2], "gridColor": "#c8c8c8", "tickSize": 3}},
     "y": {"datum": 94, "axis": {"orient": "left", "title": null, "values": [10, 30, 50, 70, 90], "labels": false, "grid": true, "gridDash": [2, 2], "gridColor": "#c8c8c8", "tickSize": 3}}
    }}
  ]
 },
 {
  "width": 362, "height": 398,
  "data": {"name": "d"},
  "transform": [{"fold": ["Bilayer", "PTAA", "PEDOT:PSS"], "as": ["s", "i"]}],
  "resolve": {"axis": {"x": "independent", "y": "independent"}},
  "layer": [
   {"mark": {"type": "line", "strokeWidth": 2, "clip": true},
    "encoding": {
     "x": {"field": "v", "type": "quantitative", "scale": {"domain": [-0.26, 1.188], "nice": false, "zero": false},
       "axis": {"orient": "bottom", "title": "Voltage (V)", "values": [-0.2, 0, 0.2, 0.4, 0.6, 0.8, 1], "labelExpr": "replace(replace(format(datum.value,'.1f'),'.',','),'−','-')", "grid": true, "labelFontSize": 17, "titlePadding": 2}},
     "y": {"field": "i", "type": "quantitative", "scale": {"type": "log", "domain": [0.00005, 51], "nice": false},
       "axis": {"orient": "left", "title": "I (mA)", "values": [0.0001, 0.001, 0.01, 0.1, 1, 10], "labelExpr": "datum.value < 0.0005 ? '10⁻⁴' : datum.value < 0.005 ? '10⁻³' : datum.value < 0.05 ? '10⁻²' : datum.value < 0.5 ? '10⁻¹' : datum.value < 5 ? '10⁰' : '10¹'", "grid": true, "labelFontSize": 17, "titlePadding": 4}},
     "color": {"field": "s", "type": "nominal",
       "scale": {"domain": ["PEDOT:PSS", "PTAA", "Bilayer"], "range": ["#4aaef0", "#0d7a12", "#f5821f"]},
       "legend": {"title": null, "orient": "none", "legendX": 188, "legendY": 309, "padding": 4, "fillColor": "white", "labelFontSize": 18.5, "symbolSize": 25, "labelOffset": 36, "rowPadding": 1.5,
         "encode": {"symbols": {"update": {
           "shape": {"signal": "datum.value=='Bilayer' ? 'M-1,0H5.4M8.6,0H15M5.4,0A1.6,1.6,0,1,0,8.6,0A1.6,1.6,0,1,0,5.4,0Z' : datum.value=='PTAA' ? 'M-1,0H5.1M8.9,0H15M7,-1.9L8.9,0L7,1.9L5.1,0Z' : 'M-1,0H5.4M8.6,0H15M5.4,-1.6H8.6V1.6H5.4Z'"},
           "fill": {"signal": "datum.value=='Bilayer' ? '#fbc08a' : datum.value=='PTAA' ? '#0d7a12' : '#4aaef0'"},
           "stroke": {"signal": "datum.value=='Bilayer' ? '#f5821f' : datum.value=='PTAA' ? '#0d7a12' : '#4aaef0'"},
           "strokeWidth": {"value": 2.5}, "opacity": {"value": 1}}}}}}
    }},
   {"transform": [{"filter": "datum.s=='Bilayer'"}],
    "mark": {"type": "point", "shape": "circle", "size": 56, "opacity": 1, "stroke": "#f5821f", "fill": "#fde2c6", "strokeWidth": 2, "clip": true},
    "encoding": {"x": {"field": "v", "type": "quantitative", "axis": null}, "y": {"field": "i", "type": "quantitative", "axis": null}}},
   {"transform": [{"filter": "datum.s=='PTAA'"}],
    "mark": {"type": "point", "shape": "diamond", "size": 90, "filled": true, "opacity": 1, "color": "#0d7a12", "clip": true},
    "encoding": {"x": {"field": "v", "type": "quantitative", "axis": null}, "y": {"field": "i", "type": "quantitative", "axis": null}}},
   {"transform": [{"filter": "datum.s=='PEDOT:PSS'"}],
    "mark": {"type": "point", "shape": "square", "size": 64, "filled": true, "opacity": 1, "color": "#4aaef0", "clip": true},
    "encoding": {"x": {"field": "v", "type": "quantitative", "axis": null}, "y": {"field": "i", "type": "quantitative", "axis": null}}},
   {"data": {"values": [{}]},
    "mark": {"type": "text", "text": "d", "fontSize": 22, "fontWeight": "bold", "align": "left", "baseline": "alphabetic", "color": "#111"},
    "encoding": {
     "x": {"datum": -0.168, "axis": {"orient": "bottom", "title": null, "values": [-0.1, 0.1, 0.3, 0.5, 0.7, 0.9, 1.1], "labels": false, "grid": true, "gridDash": [2, 2], "gridColor": "#c8c8c8", "tickSize": 3}},
     "y": {"datum": 20, "axis": {"orient": "left", "title": null, "values": [0.00006, 0.00007, 0.00008, 0.00009, 0.0002, 0.0003, 0.0004, 0.0005, 0.0006, 0.0007, 0.0008, 0.0009, 0.002, 0.003, 0.004, 0.005, 0.006, 0.007, 0.008, 0.009, 0.02, 0.03, 0.04, 0.05, 0.06, 0.07, 0.08, 0.09, 0.2, 0.3, 0.4, 0.5, 0.6, 0.7, 0.8, 0.9, 2, 3, 4, 5, 6, 7, 8, 9, 20, 30, 40, 50], "labels": false, "grid": true, "gridDash": [2, 2], "gridColor": "#c8c8c8", "tickSize": 3}}
    }}
  ]
 }
 ],
 "spacing": 82,
 "bounds": "flush",
 "resolve": {"scale": {"color": "independent"}}
}
]
}
